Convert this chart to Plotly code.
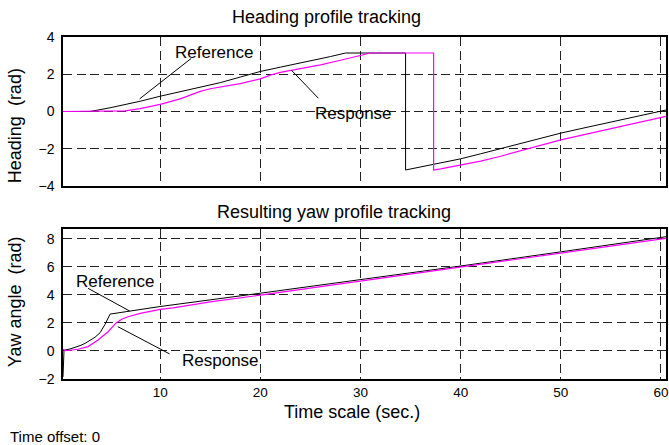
import plotly.graph_objects as go

# Heading profile (rad) versus time (s)
t_head_ref = [0.3, 3.0, 5.0, 7.0, 8.0, 10.0, 12.0, 14.0, 16.0, 18.0, 20.0, 22.0, 24.0, 26.0, 27.0,
              28.5, 34.5, 34.5, 36.0, 38.0, 40.0, 42.0, 44.0, 46.0, 48.0, 50.0, 52.0, 54.0, 56.0,
              58.0, 60.0, 60.5]
head_ref = [0.0, 0.0, 0.2, 0.42, 0.55, 0.82, 1.05, 1.3, 1.55, 1.85, 2.15, 2.38, 2.6, 2.83, 2.95,
            3.14, 3.14, -3.14, -2.98, -2.75, -2.54, -2.27, -1.99, -1.71, -1.43, -1.16, -0.92, -0.69,
            -0.46, -0.22, 0.02, 0.08]

t_head_resp = [0.3, 5.0, 6.5, 8.0, 10.0, 12.0, 13.0, 14.0, 15.0, 16.0, 18.0, 20.0, 21.0, 22.0, 23.0,
               24.0, 26.0, 28.0, 30.0, 31.0, 37.3, 37.3, 38.0, 40.0, 42.0, 44.0, 46.0, 48.0, 50.0,
               52.0, 54.0, 56.0, 58.0, 60.0, 60.5]
head_resp = [0.0, 0.0, 0.03, 0.15, 0.38, 0.68, 0.88, 1.08, 1.22, 1.32, 1.5, 1.75, 1.95, 2.1, 2.2,
             2.3, 2.5, 2.75, 3.02, 3.14, 3.14, -3.14, -3.08, -2.88, -2.66, -2.4, -2.11, -1.8, -1.52,
             -1.28, -1.04, -0.8, -0.56, -0.32, -0.26]

# Yaw angle profile (rad) versus time (s)
t_yaw_ref = [0.3, 0.4, 1.0, 1.5, 2.0, 2.5, 3.0, 3.5, 4.0, 4.5, 5.0, 6.8, 10.0, 20.0, 30.0, 40.0,
             50.0, 60.0, 60.5]
yaw_ref = [-1.85, 0.05, 0.14, 0.25, 0.38, 0.54, 0.74, 0.98, 1.3, 1.9, 2.63, 2.83, 3.17, 4.12, 5.08,
           6.06, 7.07, 8.1, 8.15]

t_yaw_resp = [0.3, 0.5, 1.0, 1.8, 2.8, 3.8, 4.8, 5.6, 6.2, 6.8, 8.0, 8.8, 10.0, 11.3, 15.0, 20.0,
              30.0, 40.0, 50.0, 60.0, 60.5]
yaw_resp = [0.12, 0.03, 0.05, 0.12, 0.31, 0.78, 1.37, 2.0, 2.28, 2.44, 2.68, 2.8, 2.97, 3.08, 3.5,
            3.98, 4.97, 5.97, 6.97, 7.98, 8.03]

x_ticks = [10, 20, 30, 40, 50, 60]
head_ticks = [-4, -2, 0, 2, 4]
yaw_ticks = [-2, 0, 2, 4, 6, 8]

FONT = "Liberation Sans, Arial, Helvetica, sans-serif"
REF_COLOR = "#000000"
RESP_COLOR = "#ff00ff"
GRID = "#222222"

fig = go.Figure()
fig.add_trace(go.Scatter(x=t_head_ref, y=head_ref, mode="lines", xaxis="x", yaxis="y",
                         line=dict(color=REF_COLOR, width=1), showlegend=False))
fig.add_trace(go.Scatter(x=t_head_resp, y=head_resp, mode="lines", xaxis="x", yaxis="y",
                         line=dict(color=RESP_COLOR, width=1.2), showlegend=False))
fig.add_trace(go.Scatter(x=t_yaw_ref, y=yaw_ref, mode="lines", xaxis="x2", yaxis="y2",
                         line=dict(color=REF_COLOR, width=1), showlegend=False))
fig.add_trace(go.Scatter(x=t_yaw_resp, y=yaw_resp, mode="lines", xaxis="x2", yaxis="y2",
                         line=dict(color=RESP_COLOR, width=1.2), showlegend=False))

axis_common = dict(
    showline=True, mirror=True, linecolor="#000000", linewidth=1.5,
    showgrid=True, gridcolor=GRID, gridwidth=1, griddash="9px,4.5px",
    zeroline=False, ticks="", tickfont=dict(family=FONT, size=14, color="#000000"),
)

fig.update_layout(
    width=669, height=445,
    margin=dict(l=63, r=1, t=37, b=66),
    paper_bgcolor="white", plot_bgcolor="white",
    font=dict(family=FONT, color="#000000"),
    xaxis=dict(domain=[0, 1], anchor="y", range=[0.3, 60.5], tickvals=x_ticks,
               showticklabels=False, **axis_common),
    yaxis=dict(domain=[0.5643, 1], anchor="x", range=[-4, 4], tickvals=head_ticks,
               ticklabelstandoff=4, **axis_common),
    xaxis2=dict(domain=[0, 1], anchor="y2", range=[0.3, 60.5], tickvals=x_ticks,
                ticklabelstandoff=0, **axis_common),
    yaxis2=dict(domain=[0, 0.4386], anchor="x2", range=[-2, 8.7], tickvals=yaw_ticks,
                ticklabelstandoff=4, **axis_common),
)
fig.update_xaxes(tickfont_size=13.5, selector=dict(anchor="y2"))

def label(text, x, y, size, xref="paper", yref="paper", xanchor="center", angle=0):
    fig.add_annotation(text=text, x=x, y=y, xref=xref, yref=yref, showarrow=False,
                       xanchor=xanchor, yanchor="middle", textangle=angle,
                       font=dict(family=FONT, size=size, color="#000000"))

# Titles and axis labels
label("Heading profile tracking", 0.4364, 1.0585, 18)
label("Resulting yaw profile tracking", 0.4488, 0.4883, 18)
label("Time scale (sec.)", 0.4785, -0.0965, 18)
label("Time offset: 0", -0.0909, -0.1667, 15, xanchor="left")
label("Heading\u00a0\u00a0(rad)", -0.0793, 0.7398, 18, angle=-90)
label("Yaw angle\u00a0\u00a0(rad)", -0.0793, 0.225, 18, angle=-90)

# Curve labels with leader lines
label("Reference", 15.4, 3.18, 17, xref="x", yref="y")
label("Response", 29.3, -0.12, 17, xref="x", yref="y")
label("Reference", 5.5, 4.99, 17, xref="x2", yref="y2")
label("Response", 16.0, -0.71, 17, xref="x2", yref="y2")

leaders = [
    ("x", "y", 13.1, 2.85, 7.95, 0.68),
    ("x", "y", 25.8, 0.71, 23.1, 2.22),
    ("x2", "y2", 2.8, 4.47, 6.95, 2.85),
    ("x2", "y2", 10.94, -0.21, 5.78, 1.73),
]
for xr, yr, x0, y0, x1, y1 in leaders:
    fig.add_shape(type="line", xref=xr, yref=yr, x0=x0, y0=y0, x1=x1, y1=y1,
                  line=dict(color="#000000", width=1))

fig.write_html("out.html")
